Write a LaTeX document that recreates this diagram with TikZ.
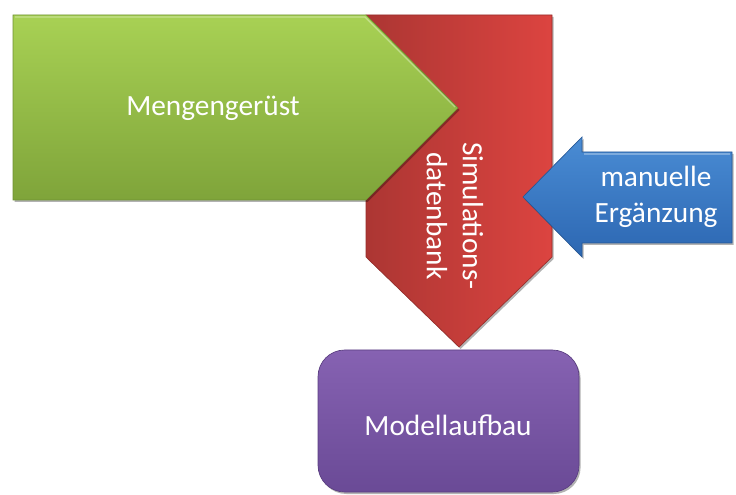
\documentclass[tikz,border=0pt]{standalone}
\usepackage{fontspec}
\setmainfont{Carlito}
\usetikzlibrary{shadows}
\definecolor{greenTop}{RGB}{168,209,84}
\definecolor{greenBot}{RGB}{127,164,58}
\definecolor{greenEdge}{RGB}{110,145,50}
\definecolor{redL}{RGB}{172,54,51}
\definecolor{redR}{RGB}{220,68,64}
\definecolor{redEdge}{RGB}{150,45,42}
\definecolor{blueTop}{RGB}{74,140,212}
\definecolor{blueBot}{RGB}{44,103,178}
\definecolor{blueEdge}{RGB}{38,88,150}
\definecolor{purpTop}{RGB}{134,98,178}
\definecolor{purpBot}{RGB}{106,74,150}
\definecolor{purpEdge}{RGB}{90,62,128}
\tikzset{
  softshadow/.style={drop shadow={opacity=0.3, shadow xshift=1.2pt, shadow yshift=-1.5pt, fill=black}},
  label/.style={text=white, font=\fontsize{22}{27}\selectfont, align=center, inner sep=0pt},
}
\begin{document}
\begin{tikzpicture}[x=0.75pt, y=-0.75pt]
  \useasboundingbox (0,0) rectangle (736,495);

  % database: downward pointing pentagon
  \path[softshadow, left color=redL, right color=redR, draw=redEdge, line width=0.5pt, line join=miter]
    (366,15) -- (552,15) -- (552,257) -- (459,347) -- (366,257) -- cycle;

  % input volumes: right pointing pentagon
  \path[softshadow, top color=greenTop, bottom color=greenBot, draw=greenEdge, line width=0.5pt]
    (13,15) -- (366,15) -- (458,108) -- (366,200) -- (13,200) -- cycle;
  \draw[white, opacity=0.35, line width=1pt] (15,17) -- (365,17) -- (455,107);

  % manual additions: left pointing arrow
  \path[softshadow, top color=blueTop, bottom color=blueBot, draw=blueEdge, line width=0.5pt]
    (523,197) -- (582,137) -- (582,152) -- (732,152) -- (732,243) -- (582,243) -- (582,257) -- cycle;
  \draw[white, opacity=0.3, line width=1pt] (584,154) -- (730,154);

  % model building: rounded box
  \path[softshadow, top color=purpTop, bottom color=purpBot, draw=purpEdge, line width=0.5pt, rounded corners=20]
    (318,350) rectangle (579,492);

  \node[label] (menge) at (213,108) {Mengengerüst};
  \node[label, rotate=-90] (simdb) at (455,216) {Simulations-\\datenbank};
  \node[label] (manuell) at (656,197) {manuelle\\Ergänzung};
  \node[label] (modell) at (448,425) {Modellaufbau};
\end{tikzpicture}
\end{document}
